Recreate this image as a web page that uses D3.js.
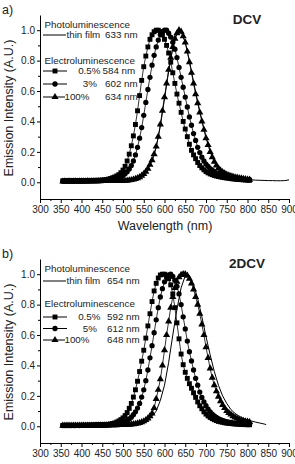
<!DOCTYPE html>
<html>
  <head>
    <script src="https://d3js.org/d3.v7.min.js"></script>
    <style>
      body { margin: 0; background: #fff; }
      svg text { font-family: "Liberation Sans", Arial, sans-serif; fill: #222; }
      .tick text { font-size: 10px; }
      .axis path, .axis line { stroke: #000; }
    </style>
  </head>
  <body>
    <div id="chart"></div>
    <script>
      // EL spectra sampled every 5 nm, 355 - 805 nm
      const elWavelength = [
        355, 360, 365, 370, 375, 380, 385, 390, 395, 400,
        405, 410, 415, 420, 425, 430, 435, 440, 445, 450,
        455, 460, 465, 470, 475, 480, 485, 490, 495, 500,
        505, 510, 515, 520, 525, 530, 535, 540, 545, 550,
        555, 560, 565, 570, 575, 580, 585, 590, 595, 600,
        605, 610, 615, 620, 625, 630, 635, 640, 645, 650,
        655, 660, 665, 670, 675, 680, 685, 690, 695, 700,
        705, 710, 715, 720, 725, 730, 735, 740, 745, 750,
        755, 760, 765, 770, 775, 780, 785, 790, 795, 800,
        805
      ];

      // panel a) DCV
      const dcvEl05 = [
        .010, .009, .010, .010, .009, .010, .010, .010, .011, .010,
        .011, .011, .011, .012, .012, .012, .012, .013, .013, .014,
        .016, .018, .021, .025, .030, .035, .042, .050, .063, .080,
        .105, .140, .185, .240, .305, .380, .470, .570, .670, .760,
        .830, .890, .940, .970, .990, 1.00, 1.00, .990, .970, .940,
        .900, .850, .790, .720, .650, .580, .520, .460, .400, .350,
        .300, .250, .210, .180, .155, .130, .110, .095, .082, .070,
        .062, .055, .050, .045, .041, .038, .035, .032, .030, .028,
        .026, .024, .022, .021, .019, .018, .017, .016, .015, .014,
        .013
      ];
      const dcvEl3 = [
        .008, .007, .008, .008, .008, .008, .008, .009, .008, .009,
        .009, .009, .009, .010, .010, .010, .010, .011, .011, .012,
        .012, .013, .014, .015, .017, .020, .025, .030, .037, .045,
        .056, .070, .088, .110, .140, .180, .230, .290, .360, .440,
        .525, .610, .690, .770, .835, .890, .935, .970, .990, 1.00,
        1.00, .980, .955, .920, .875, .820, .755, .690, .625, .560,
        .495, .430, .375, .320, .275, .230, .195, .165, .140, .120,
        .105, .090, .080, .070, .062, .055, .050, .045, .041, .038,
        .035, .032, .030, .028, .026, .024, .022, .021, .019, .018,
        .017
      ];
      const dcvEl100 = [
        .005, .006, .005, .006, .005, .006, .006, .005, .006, .006,
        .006, .006, .007, .006, .007, .007, .007, .007, .007, .008,
        .008, .008, .008, .008, .008, .008, .009, .009, .009, .009,
        .010, .011, .013, .015, .018, .022, .027, .034, .043, .055,
        .070, .090, .115, .145, .185, .235, .300, .380, .470, .560,
        .650, .740, .820, .890, .945, .980, 1.00, .990, .960, .920,
        .860, .790, .720, .650, .580, .520, .460, .400, .345, .290,
        .245, .200, .165, .135, .110, .092, .078, .067, .058, .051,
        .046, .041, .037, .033, .030, .027, .025, .022, .020, .018,
        .017
      ];
      const dcvPlWavelength = [
        360, 370, 380, 390, 400, 410, 420, 430, 440, 450,
        460, 470, 480, 490, 500, 510, 520, 530, 540, 550,
        560, 570, 580, 590, 600, 610, 620, 630, 640, 650,
        660, 670, 680, 690, 700, 710, 720, 730, 740, 750,
        760, 770, 780, 790, 800, 810, 820, 830, 840, 850,
        860, 870, 880, 890, 900
      ];
      const dcvPl = [
        .005, .005, .005, .005, .005, .005, .005, .005, .005, .005,
        .005, .006, .006, .007, .007, .008, .012, .018, .030, .050,
        .085, .140, .230, .370, .550, .730, .880, .980, .990, .920,
        .800, .660, .530, .410, .300, .210, .145, .100, .072, .053,
        .040, .032, .026, .021, .018, .016, .014, .013, .012, .011,
        .011, .010, .010, .011, .016
      ];

      // panel b) 2DCV
      const dcv2El05 = [
        .006, .005, .006, .006, .005, .006, .006, .006, .006, .007,
        .007, .007, .007, .008, .008, .008, .009, .009, .010, .010,
        .011, .012, .013, .015, .018, .022, .028, .035, .044, .055,
        .070, .090, .118, .150, .192, .240, .296, .360, .428, .500,
        .580, .660, .740, .820, .890, .940, .975, .995, 1.00, 1.00,
        .990, .970, .930, .870, .780, .680, .575, .475, .405, .355,
        .315, .280, .250, .220, .190, .160, .135, .115, .095, .080,
        .068, .058, .050, .043, .037, .032, .029, .026, .023, .021,
        .019, .018, .016, .015, .014, .013, .012, .011, .011, .010,
        .010
      ];
      const dcv2El5 = [
        .005, .005, .005, .005, .005, .005, .005, .006, .005, .006,
        .006, .006, .006, .006, .007, .007, .007, .007, .008, .008,
        .009, .009, .010, .011, .012, .012, .014, .017, .021, .025,
        .031, .038, .048, .060, .076, .095, .120, .150, .192, .240,
        .300, .370, .450, .530, .615, .700, .780, .850, .905, .950,
        .980, .995, 1.00, .985, .960, .920, .870, .800, .720, .640,
        .560, .490, .430, .370, .315, .270, .225, .190, .160, .135,
        .113, .095, .080, .068, .058, .050, .044, .038, .034, .030,
        .027, .025, .022, .020, .019, .017, .016, .015, .014, .013,
        .013
      ];
      const dcv2El100 = [
        .004, .004, .005, .004, .004, .005, .004, .004, .005, .005,
        .005, .005, .005, .005, .005, .005, .006, .006, .006, .006,
        .006, .006, .006, .007, .007, .007, .007, .008, .008, .008,
        .009, .010, .011, .012, .014, .016, .019, .022, .027, .033,
        .041, .052, .066, .085, .120, .180, .240, .310, .400, .500,
        .600, .690, .780, .850, .910, .950, .980, .995, 1.00, 1.00,
        .990, .970, .940, .900, .850, .800, .740, .670, .600, .520,
        .450, .380, .320, .270, .230, .195, .165, .140, .120, .100,
        .088, .077, .067, .058, .051, .045, .040, .036, .032, .030,
        .028
      ];
      const dcv2PlWavelength = [
        360, 370, 380, 390, 400, 410, 420, 430, 440, 450,
        460, 470, 480, 490, 500, 510, 520, 530, 540, 550,
        560, 570, 580, 590, 600, 610, 620, 630, 640, 650,
        660, 670, 680, 690, 700, 710, 720, 730, 740, 750,
        760, 770, 780, 790, 800, 810, 820, 830, 840, 845
      ];
      const dcv2Pl = [
        .004, .004, .004, .004, .004, .004, .004, .004, .005, .005,
        .005, .005, .005, .006, .006, .007, .008, .010, .015, .025,
        .040, .065, .100, .170, .270, .420, .600, .770, .910, .990,
        .990, .930, .840, .720, .590, .470, .360, .270, .200, .150,
        .110, .085, .066, .052, .042, .034, .027, .021, .015, .011
      ];

      const xTicks = [300, 350, 400, 450, 500, 550, 600, 650, 700, 750, 800, 850, 900];
      const yTicks = [0.0, 0.2, 0.4, 0.6, 0.8, 1.0];

      const W = 295, H = 464;
      const svg = d3.select("#chart").append("svg")
        .attr("width", W).attr("height", H);

      const x = d3.scaleLinear().domain([300, 900]).range([40, 289]);

      function panel(cfg) {
        const y = d3.scaleLinear().domain([-0.11, 1.1]).range([cfg.bottom, cfg.bottom - 184]);
        const g = svg.append("g");

        // minor ticks
        g.append("g").attr("class", "axis")
          .attr("transform", `translate(0,${cfg.bottom})`)
          .call(d3.axisBottom(x).tickValues(xTicks.slice(1).map(v => v - 25)).tickSize(2).tickFormat(""))
          .select(".domain").remove();
        g.append("g").attr("class", "axis")
          .attr("transform", "translate(40,0)")
          .call(d3.axisLeft(y).tickValues(yTicks.slice(1).map(v => v - 0.1)).tickSize(2).tickFormat(""))
          .select(".domain").remove();

        g.append("g").attr("class", "axis")
          .attr("transform", `translate(0,${cfg.bottom})`)
          .call(d3.axisBottom(x).tickValues(xTicks).tickSize(4).tickSizeOuter(0).tickPadding(3));
        g.append("g").attr("class", "axis")
          .attr("transform", "translate(40,0)")
          .call(d3.axisLeft(y).tickValues(yTicks).tickSize(3).tickSizeOuter(0).tickPadding(2)
            .tickFormat(d3.format(".1f")));

        const line = d3.line().x(d => x(d[0])).y(d => y(d[1]));
        const sym = {
          square: d3.symbol().type(d3.symbolSquare).size(24),
          circle: d3.symbol().type(d3.symbolCircle).size(22),
          triangle: d3.symbol().type(d3.symbolTriangle).size(22)
        };

        // PL line
        g.append("path")
          .datum(cfg.plWl.map((w, i) => [w, cfg.pl[i]]))
          .attr("fill", "none").attr("stroke", "#000").attr("stroke-width", 1)
          .attr("d", line);

        cfg.el.forEach(s => {
          const pts = elWavelength.map((w, i) => [w, s.values[i]]);
          g.append("path").datum(pts)
            .attr("fill", "none").attr("stroke", "#000").attr("stroke-width", 0.8)
            .attr("d", line);
          g.append("g").selectAll("path").data(pts).join("path")
            .attr("transform", d => `translate(${x(d[0])},${y(d[1])})`)
            .attr("d", sym[s.shape]).attr("fill", "#000");
        });

        // panel letter and compound name
        svg.append("text").attr("x", 2).attr("y", cfg.bottom - 185).attr("font-size", 12.5).text(cfg.letter);
        svg.append("text").attr("x", 247).attr("y", cfg.bottom - 175).attr("text-anchor", "middle")
          .attr("font-size", 13.5).attr("font-weight", "bold").text(cfg.name);

        // y axis title
        svg.append("text")
          .attr("transform", `translate(13,${cfg.bottom - 91}) rotate(-90)`)
          .attr("text-anchor", "middle").attr("font-size", 12.5)
          .text("Emission Intensity (A.U.)");

        // legend
        const L = cfg.legend;
        const lg = svg.append("g").attr("font-size", 9.8);
        lg.append("text").attr("x", 44.5).attr("y", L.rows[0]).attr("dy", "0.35em").text("Photoluminescence");
        lg.append("line").attr("x1", 43).attr("x2", 66).attr("y1", L.rows[1]).attr("y2", L.rows[1]).attr("stroke", "#000");
        lg.append("text").attr("x", 66.5).attr("y", L.rows[1]).attr("dy", "0.35em").text("thin film");
        lg.append("text").attr("x", L.plX).attr("y", L.rows[1]).attr("dy", "0.35em").text(L.plLabel);
        lg.append("text").attr("x", 44.5).attr("y", L.rows[2]).attr("dy", "0.35em").text("Electroluminescence");
        cfg.el.forEach((s, i) => {
          const yy = L.rows[3 + i];
          lg.append("line").attr("x1", 43).attr("x2", i === 2 ? 65 : 67).attr("y1", yy).attr("y2", yy).attr("stroke", "#000");
          lg.append("path").attr("transform", `translate(55,${yy})`).attr("d", sym[s.shape]).attr("fill", "#000");
          lg.append("text").attr("x", s.pctEnd).attr("y", yy).attr("dy", "0.35em")
            .attr("text-anchor", "end").text(s.label);
          lg.append("text").attr("x", s.nmX).attr("y", yy).attr("dy", "0.35em").text(s.peak);
        });
      }

      panel({
        bottom: 199, letter: "a)", name: "DCV",
        plWl: dcvPlWavelength, pl: dcvPl,
        el: [
          { values: dcvEl05, shape: "square", label: "0.5%", pctEnd: 100.5, nmX: 102.5, peak: "584 nm" },
          { values: dcvEl3, shape: "circle", label: "3%", pctEnd: 97, nmX: 105, peak: "602 nm" },
          { values: dcvEl100, shape: "triangle", label: "100%", pctEnd: 89.5, nmX: 105, peak: "634 nm" }
        ],
        legend: { rows: [25, 35, 61, 71, 84, 97], plX: 105, plLabel: "633 nm" }
      });
      panel({
        bottom: 443, letter: "b)", name: "2DCV",
        plWl: dcv2PlWavelength, pl: dcv2Pl,
        el: [
          { values: dcv2El05, shape: "square", label: "0.5%", pctEnd: 100.5, nmX: 107, peak: "592 nm" },
          { values: dcv2El5, shape: "circle", label: "5%", pctEnd: 97, nmX: 107, peak: "612 nm" },
          { values: dcv2El100, shape: "triangle", label: "100%", pctEnd: 89.5, nmX: 107, peak: "648 nm" }
        ],
        legend: { rows: [268.5, 281, 304, 317, 328.5, 340], plX: 107, plLabel: "654 nm" }
      });

      svg.append("text").attr("x", 165).attr("y", 230).attr("text-anchor", "middle")
        .attr("font-size", 12.5).text("Wavelength (nm)");
    </script>
  </body>
</html>
